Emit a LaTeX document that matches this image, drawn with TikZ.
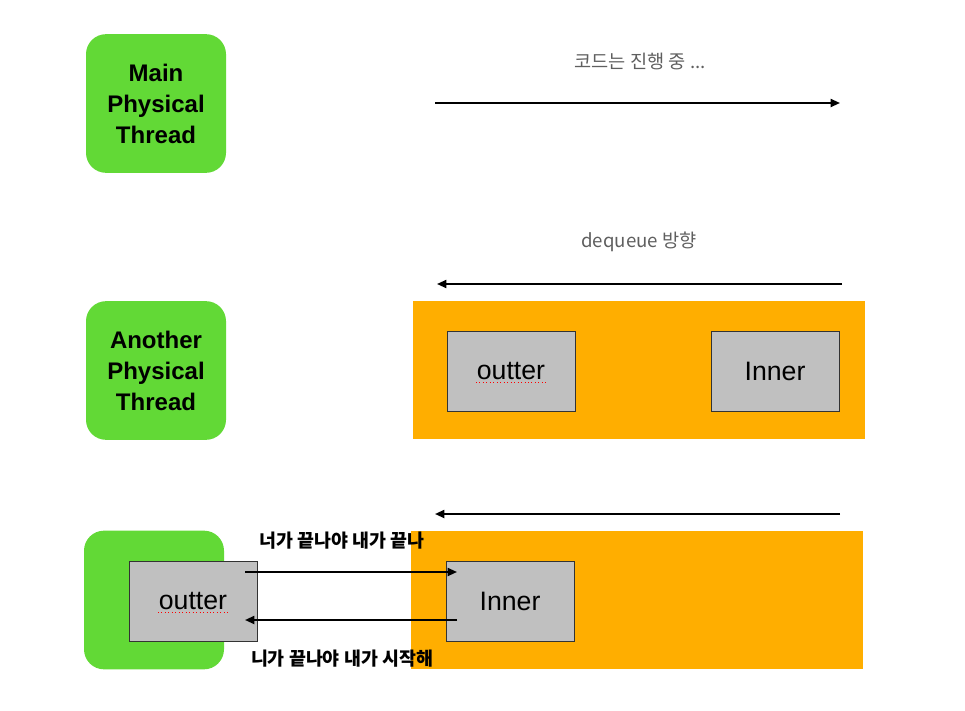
\documentclass[tikz,border=0pt]{standalone}
\usepackage{fontspec}
\setmainfont{Liberation Sans}
\newfontfamily\kofont{Noto Sans CJK KR}
\usetikzlibrary{arrows.meta}
\definecolor{thgreen}{HTML}{62D936}
\definecolor{qorange}{HTML}{FFAE00}
\definecolor{boxgray}{HTML}{C0C0C0}
\definecolor{labgray}{HTML}{5F5F5F}
\tikzset{
  thread/.style={fill=thgreen, rounded corners=15pt, minimum width=105pt, minimum height=104pt, inner sep=0pt, align=center, font=\fontsize{18}{23.3}\selectfont\bfseries},
  queue/.style={fill=qorange, minimum width=339pt, minimum height=104pt, inner sep=0pt},
  task/.style={fill=boxgray, draw=black!80, line width=0.5pt, minimum width=96pt, minimum height=60pt, inner sep=0pt, font=\fontsize{20}{22}\selectfont},
  flow/.style={line width=1.4pt, -{Triangle[length=7pt,width=6pt]}},
  glabel/.style={text=labgray, font=\kofont\fontsize{14}{16}\selectfont},
  blabel/.style={text=black, font=\kofont\fontsize{13.8}{16}\selectfont\bfseries},
  spell/.style={red, line width=0.6pt, dotted}
}
\begin{document}
\begin{tikzpicture}[x=0.75pt,y=-0.75pt]
\useasboundingbox (0,0) rectangle (965,711);
% threads
\node[thread] (main) at (156,103.5) {Main\\Physical\\Thread};
\node[thread] (another) at (156,370.5) {Another\\Physical\\Thread};
\node[thread] (third) at (154,600) {};
% top arrow
\node[glabel] (code) at (640,61) {코드는 진행 중 ...};
\coordinate (a1s) at (435,103);
\coordinate (a1e) at (840,103);
\draw[flow] (a1s) -- (a1e);
% dequeue
\node[glabel] (deq) at (639,242) {dequeue 방향};
\coordinate (a2s) at (842,284);
\coordinate (a2e) at (437,284);
\draw[flow] (a2s) -- (a2e);
% queue 1
\node[queue] (q1) at (639,370) {};
\node[task] (out1) at (511,371) {outter};
\node[task] (in1) at (775,371) {Inner};
\draw[spell] (476,382.5) -- (546,382.5);
% arrow 3
\coordinate (a3s) at (840,514);
\coordinate (a3e) at (435,514);
\draw[flow] (a3s) -- (a3e);
% queue 2
\node[queue] (q2) at (637,600) {};
\node[task] (out2) at (193,601) {outter};
\node[task] (in2) at (510,601) {Inner};
\draw[spell] (158,612.5) -- (228,612.5);
\node[blabel] (t1) at (342,541) {너가 끝나야 내가 끝나};
\node[blabel] (t2) at (342,659) {니가 끝나야 내가 시작해};
\coordinate (b1s) at (245,572);
\coordinate (b1e) at (457,572);
\coordinate (b2s) at (457,620);
\coordinate (b2e) at (245,620);
\draw[flow] (b1s) -- (b1e);
\draw[flow] (b2s) -- (b2e);
\end{tikzpicture}
\end{document}
